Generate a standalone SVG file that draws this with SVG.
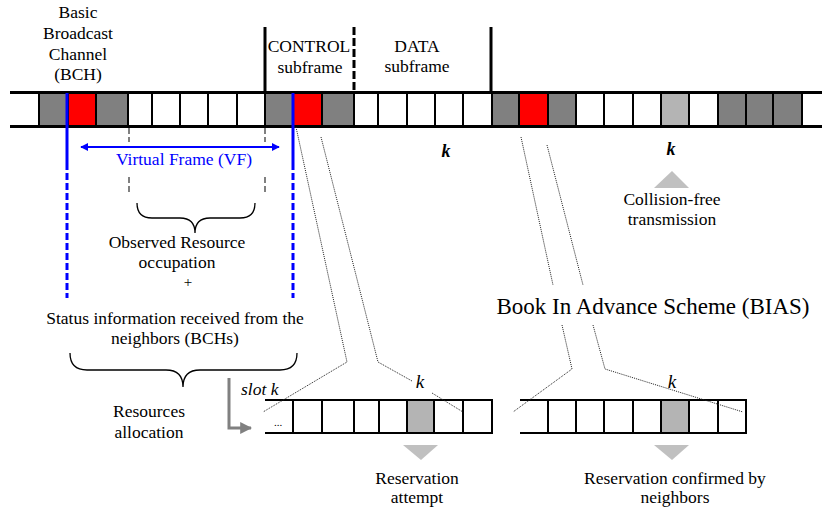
<svg xmlns="http://www.w3.org/2000/svg" width="822" height="510" viewBox="0 0 822 510">
<style>
text{font-size:17.5px;fill:#000;text-anchor:middle}
.it{font-style:italic}
.blue{fill:#0000ff}
.cell{stroke:#000;stroke-width:2}
.g{fill:#808080}.r{fill:#ff0000}.w{fill:#fff}.lg{fill:#b4b4b4}
.rail{stroke:#000;stroke-width:3;fill:none}
.rail2{stroke:#000;stroke-width:2;fill:none}
.dot{stroke:#222;stroke-width:1;stroke-dasharray:1 1;fill:none}
.gdash{stroke:#808080;stroke-width:2;stroke-dasharray:6 3;fill:none}
.tri{fill:#c0c0c0}
.brace{stroke:#000;stroke-width:1.3;fill:none}
</style>
<defs>
<marker id="ab" viewBox="0 0 10 10" refX="9" refY="5" markerWidth="4" markerHeight="4" orient="auto-start-reverse"><path d="M0,0 L10,5 L0,10 z" fill="#0000ff"/></marker>
<marker id="ag" viewBox="0 0 10 10" refX="9" refY="5" markerWidth="4" markerHeight="4" orient="auto"><path d="M0,0 L10,5 L0,10 z" fill="#808080"/></marker>
</defs>
<rect width="822" height="510" fill="#fff"/>

<g id="frame-bar">
<rect class="cell g" x="39" y="93" width="29" height="33"/>
<rect class="cell r" x="68" y="93" width="28" height="33"/>
<rect class="cell g" x="96" y="93" width="32" height="33"/>
<rect class="cell w" x="128" y="93" width="24" height="33"/>
<rect class="cell w" x="152" y="93" width="28" height="33"/>
<rect class="cell w" x="180" y="93" width="28" height="33"/>
<rect class="cell w" x="208" y="93" width="29" height="33"/>
<rect class="cell w" x="237" y="93" width="28" height="33"/>
<rect class="cell g" x="265" y="93" width="28" height="33"/>
<rect class="cell r" x="293" y="93" width="29" height="33"/>
<rect class="cell g" x="322" y="93" width="32" height="33"/>
<rect class="cell w" x="354" y="93" width="24" height="33"/>
<rect class="cell w" x="378" y="93" width="29" height="33"/>
<rect class="cell w" x="407" y="93" width="28" height="33"/>
<rect class="cell w" x="435" y="93" width="28" height="33"/>
<rect class="cell w" x="463" y="93" width="29" height="33"/>
<rect class="cell g" x="492" y="93" width="27" height="33"/>
<rect class="cell r" x="519" y="93" width="29" height="33"/>
<rect class="cell g" x="548" y="93" width="28" height="33"/>
<rect class="cell w" x="576" y="93" width="28" height="33"/>
<rect class="cell w" x="604" y="93" width="29" height="33"/>
<rect class="cell w" x="633" y="93" width="28" height="33"/>
<rect class="cell lg" x="661" y="93" width="28" height="33"/>
<rect class="cell w" x="689" y="93" width="29" height="33"/>
<rect class="cell g" x="718" y="93" width="28" height="33"/>
<rect class="cell g" x="746" y="93" width="27" height="33"/>
<rect class="cell g" x="773" y="93" width="29" height="33"/>
<line class="rail" x1="10" y1="92.5" x2="822" y2="92.5"/>
<line class="rail" x1="10" y1="126.5" x2="822" y2="126.5"/>
<line class="rail" x1="265" y1="27" x2="265" y2="93"/>
<line class="rail" x1="354" y1="27" x2="354" y2="93" stroke-dasharray="8 3"/>
<line class="rail" x1="491" y1="27" x2="491" y2="93"/>
</g>

<g font-family="Liberation Serif, Times New Roman, serif">
<g id="bch-label">
<text x="78" y="18">Basic</text>
<text x="78" y="39">Broadcast</text>
<text x="78" y="59.5">Channel</text>
<text x="78" y="80">(BCH)</text>
</g>
<g id="control-label">
<text x="309" y="52">CONTROL</text>
<text x="310" y="73">subframe</text>
</g>
<g id="data-label">
<text x="417" y="52">DATA</text>
<text x="417" y="72">subframe</text>
</g>

<g id="virtual-frame">
<line x1="67" y1="93" x2="67" y2="163" stroke="#0000ff" stroke-width="3"/>
<line x1="293" y1="93" x2="293" y2="163" stroke="#0000ff" stroke-width="3"/>
<line x1="67" y1="163" x2="67" y2="298" stroke="#0000ff" stroke-width="3" stroke-dasharray="7 3"/>
<line x1="293" y1="163" x2="293" y2="298" stroke="#0000ff" stroke-width="3" stroke-dasharray="7 3"/>
<line x1="81" y1="147" x2="279" y2="147" stroke="#0000ff" stroke-width="2" marker-start="url(#ab)" marker-end="url(#ab)"/>
<text class="blue" x="184" y="165">Virtual Frame (VF)</text>
</g>

<g id="observed">
<line class="gdash" x1="129" y1="128" x2="129" y2="142"/>
<line class="gdash" x1="265" y1="128" x2="265" y2="142"/>
<line class="gdash" x1="129" y1="177" x2="129" y2="195"/>
<line class="gdash" x1="265" y1="177" x2="265" y2="195"/>
<path class="brace" d="M137,203 Q137,218 152,218 L180,218 Q195,218 195,233 Q195,218 210,218 L240,218 Q255,218 255,203"/>
<text x="177" y="248">Observed Resource</text>
<text x="177" y="268">occupation</text>
<text x="188" y="287" style="font-size:15px">+</text>
</g>

<g id="status">
<text x="175" y="324">Status information received from the</text>
<text x="175" y="344">neighbors (BCHs)</text>
<path class="brace" d="M70,353 Q70,370 87,370 L166,370 Q183,370 183,387 Q183,370 200,370 L280,370 Q297,370 297,353"/>
<text x="149" y="417">Resources</text>
<text x="149" y="438">allocation</text>
</g>

<g id="slot-arrow">
<path d="M229,378 L229,428 L251,428" stroke="#808080" stroke-width="3" fill="none" marker-end="url(#ag)"/>
<text class="it" x="241" y="395" style="text-anchor:start">slot k</text>
</g>

<g id="attempt-bar">
<rect class="cell w" x="293" y="400" width="29" height="33"/>
<rect class="cell w" x="322" y="400" width="32" height="33"/>
<rect class="cell w" x="354" y="400" width="25" height="33"/>
<rect class="cell w" x="379" y="400" width="28" height="33"/>
<rect class="cell lg" x="407" y="400" width="27" height="33"/>
<rect class="cell w" x="434" y="400" width="29" height="33"/>
<rect class="cell w" x="463" y="400" width="29" height="33"/>
<line class="rail2" x1="265" y1="400" x2="492" y2="400"/>
<line class="rail2" x1="265" y1="433" x2="492" y2="433"/>
<text x="278" y="426" style="font-size:11px">...</text>
</g>

<g id="confirmed-bar">
<rect class="cell w" x="548" y="400" width="28" height="33"/>
<rect class="cell w" x="576" y="400" width="28" height="33"/>
<rect class="cell w" x="604" y="400" width="29" height="33"/>
<rect class="cell w" x="633" y="400" width="28" height="33"/>
<rect class="cell lg" x="661" y="400" width="28" height="33"/>
<rect class="cell w" x="689" y="400" width="29" height="33"/>
<rect class="cell w" x="718" y="400" width="28" height="33"/>
<line class="rail2" x1="520" y1="400" x2="746" y2="400"/>
<line class="rail2" x1="520" y1="433" x2="746" y2="433"/>
</g>

<g id="connectors">
<polyline class="dot" points="296,127 347,362 263,412"/>
<polyline class="dot" points="321,137 378,362 412,381"/>
<line class="dot" x1="432" y1="393" x2="463" y2="412"/>
<line class="dot" x1="521" y1="137" x2="553" y2="285"/>
<polyline class="dot" points="562,325 572,369 513,412"/>
<line class="dot" x1="547" y1="145" x2="583" y2="285"/>
<polyline class="dot" points="593,325 605,369 743,412"/>
</g>

<g id="k-labels">
<text class="it" x="446" y="157" style="font-weight:bold;font-size:18px">k</text>
<text class="it" x="671" y="155" style="font-weight:bold;font-size:18px">k</text>
<text class="it" x="420" y="388" style="font-size:19px">k</text>
<text class="it" x="672" y="388" style="font-size:19px">k</text>
</g>

<g id="collision-free">
<polygon class="tri" points="654,188 689,188 672,171"/>
<text x="672" y="205">Collision-free</text>
<text x="672" y="225">transmission</text>
</g>

<g id="bias-label">
<text x="653" y="314" style="font-size:23px">Book In Advance Scheme (BIAS)</text>
</g>

<g id="reservation-attempt">
<polygon class="tri" points="403,445 438,445 421,460"/>
<text x="417" y="484">Reservation</text>
<text x="417" y="503">attempt</text>
</g>

<g id="reservation-confirmed">
<polygon class="tri" points="654,445 689,445 672,460"/>
<text x="675" y="484">Reservation confirmed by</text>
<text x="675" y="503">neighbors</text>
</g>
</g>
</svg>
